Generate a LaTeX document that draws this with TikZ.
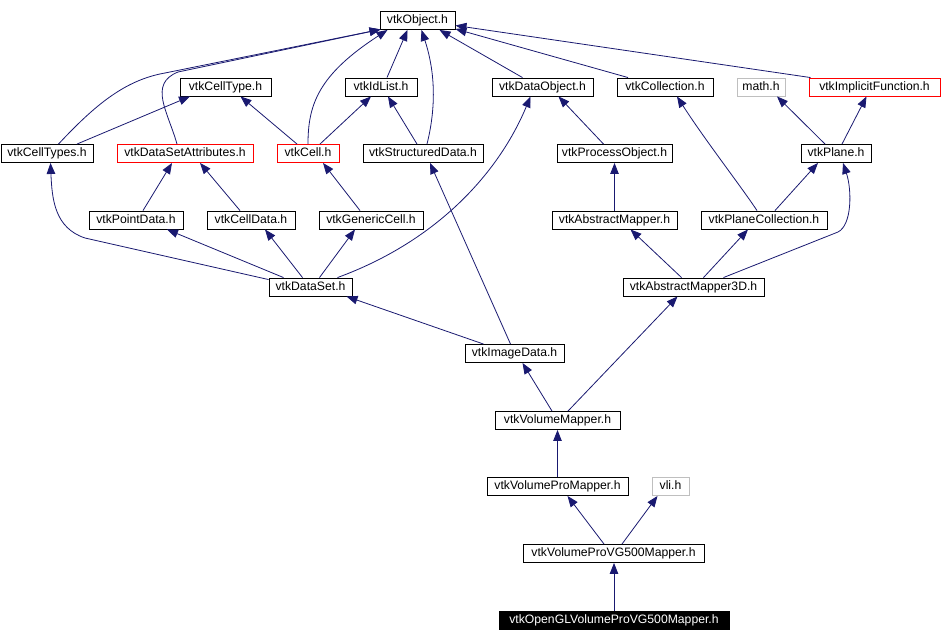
\documentclass[tikz,border=0pt]{standalone}
\usepackage{fontspec}
\setmainfont{Liberation Sans}
\usetikzlibrary{arrows.meta}
\definecolor{edgecol}{HTML}{191970}
\definecolor{graybox}{HTML}{BFBFBF}
\tikzset{
  box/.style={draw=black, line width=0.9pt, rectangle, minimum height=18pt, inner sep=0pt, text height=9pt, text depth=2.5pt, font=\fontsize{12.2}{13}\selectfont, fill=white},
  redbox/.style={box, draw=red},
  graybx/.style={box, draw=graybox},
  blackbox/.style={box, fill=black, text=white},
  edge/.style={draw=edgecol, line width=0.8pt, -{Triangle[length=11pt,width=8.5pt]}}
}
\begin{document}
\begin{tikzpicture}[x=1pt,y=-1pt]
\useasboundingbox (0,0) rectangle (942,642);
% nodes
\node[box, minimum width=75] (obj) at (417.5,20.5) {vtkObject.h};
\node[box, minimum width=91] (celltype) at (225.5,87) {vtkCellType.h};
\node[box, minimum width=72] (idlist) at (381,87) {vtkIdList.h};
\node[box, minimum width=101] (dataobject) at (542.5,87) {vtkDataObject.h};
\node[box, minimum width=96] (collection) at (665,87) {vtkCollection.h};
\node[graybx, minimum width=48] (math) at (761,87) {math.h};
\node[redbox, minimum width=131] (implicit) at (874.5,87) {vtkImplicitFunction.h};
\node[box, minimum width=92] (celltypes) at (47,153.5) {vtkCellTypes.h};
\node[redbox, minimum width=136] (dsattr) at (185,153.5) {vtkDataSetAttributes.h};
\node[redbox, minimum width=62] (cell) at (308,153.5) {vtkCell.h};
\node[box, minimum width=120] (structured) at (423,153.5) {vtkStructuredData.h};
\node[box, minimum width=115] (processobject) at (614.5,153.5) {vtkProcessObject.h};
\node[box, minimum width=70] (plane) at (836,153.5) {vtkPlane.h};
\node[box, minimum width=94] (pointdata) at (136,220) {vtkPointData.h};
\node[box, minimum width=88] (celldata) at (251,220) {vtkCellData.h};
\node[box, minimum width=104] (genericcell) at (371,220) {vtkGenericCell.h};
\node[box, minimum width=125] (abstractmapper) at (614.5,220) {vtkAbstractMapper.h};
\node[box, minimum width=126] (planecollection) at (764,220) {vtkPlaneCollection.h};
\node[box, minimum width=83] (dataset) at (310.5,287) {vtkDataSet.h};
\node[box, minimum width=141] (am3d) at (693.5,287) {vtkAbstractMapper3D.h};
\node[box, minimum width=99] (imagedata) at (514.5,353.5) {vtkImageData.h};
\node[box, minimum width=125] (volumemapper) at (557.5,420.5) {vtkVolumeMapper.h};
\node[box, minimum width=141] (vpm) at (557.5,486.5) {vtkVolumeProMapper.h};
\node[graybx, minimum width=37] (vli) at (670.5,486.5) {vli.h};
\node[box, minimum width=181] (vg500) at (613.5,553.5) {vtkVolumeProVG500Mapper.h};
\node[blackbox, minimum width=230] (opengl) at (614,620) {vtkOpenGLVolumeProVG500Mapper.h};
% edges
\draw[edge] ([xshift=11.5]celltypes.north) .. controls (95,105) and (125,80) .. (165,73) -- ([xshift=1,yshift=0.5]obj.south west);
\draw[edge] ([xshift=-8]dsattr.north) .. controls (168,112) and (148,84) .. (178,72) -- ([xshift=1,yshift=0.5]obj.south west);
\draw[edge] ([xshift=30]celltypes.north) -- ([xshift=-35.5]celltype.south);
\draw[edge] (cell.north) .. controls (308,105) and (318,75) .. ([xshift=-30]obj.south);
\draw[edge] ([xshift=-11]cell.north) -- ([xshift=15]celltype.south);
\draw[edge] ([xshift=12]cell.north) -- ([xshift=-10]idlist.south);
\draw[edge] ([xshift=6]idlist.north) -- ([xshift=-10]obj.south);
\draw[edge] ([xshift=-6]structured.north) -- ([xshift=7]idlist.south);
\draw[edge] ([xshift=4]structured.north) .. controls (438,100) and (433,65) .. ([xshift=4]obj.south);
\draw[edge] ([xshift=-20]dataobject.north) -- ([xshift=22]obj.south);
\draw[edge] ([xshift=-37]collection.north) -- ([yshift=1]obj.south east);
\draw[edge] ([xshift=-64]implicit.north) -- ([yshift=-5]obj.east);
\draw[edge] ([xshift=-11]processobject.north) -- ([xshift=16]dataobject.south);
\draw[edge] ([xshift=27]dataset.north) .. controls (440,240) and (500,170) .. ([xshift=-12]dataobject.south);
\draw[edge] ([xshift=7]pointdata.north) -- ([xshift=-13]dsattr.south);
\draw[edge] ([xshift=-11]celldata.north) -- ([xshift=15]dsattr.south);
\draw[edge] ([xshift=-11]genericcell.north) -- ([xshift=15]cell.south);
\draw[edge] ([yshift=-2]dataset.north west) -- (85,238) .. controls (55,228) and (52,200) .. ([xshift=3.5]celltypes.south);
\draw[edge] ([xshift=-27]dataset.north) -- ([xshift=31]pointdata.south);
\draw[edge] ([xshift=-8]dataset.north) -- ([xshift=14]celldata.south);
\draw[edge] ([xshift=9]dataset.north) -- ([xshift=-16]genericcell.south);
\draw[edge] ([xshift=-31]imagedata.north) -- ([xshift=36]dataset.south);
\draw[edge] ([xshift=-4]imagedata.north) -- ([xshift=7]structured.south);
\draw[edge] (abstractmapper.north) -- (processobject.south);
\draw[edge] ([xshift=-7]planecollection.north) .. controls (740,185) and (705,140) .. ([xshift=12]collection.south);
\draw[edge] ([xshift=11]planecollection.north) -- ([xshift=-18]plane.south);
\draw[edge] ([xshift=-11]plane.north) -- ([xshift=16]math.south);
\draw[edge] ([xshift=6]plane.north) -- ([xshift=-8]implicit.south);
\draw[edge] ([xshift=-12]am3d.north) -- ([xshift=16]abstractmapper.south);
\draw[edge] ([xshift=10]am3d.north) -- ([xshift=-16]planecollection.south);
\draw[edge] ([xshift=30]am3d.north) -- (838,232) .. controls (852,225) and (852,190) .. ([xshift=7]plane.south);
\draw[edge] ([xshift=-5.5]volumemapper.north) -- ([xshift=8]imagedata.south);
\draw[edge] ([xshift=10.5]volumemapper.north) -- ([xshift=-16]am3d.south);
\draw[edge] (vpm.north) -- (volumemapper.south);
\draw[edge] ([xshift=-9.5]vg500.north) -- ([xshift=10]vpm.south);
\draw[edge] ([xshift=8.5]vg500.north) -- ([xshift=-13]vli.south);
\draw[edge] (opengl.north) -- (opengl.north |- vg500.south);
\end{tikzpicture}
\end{document}
